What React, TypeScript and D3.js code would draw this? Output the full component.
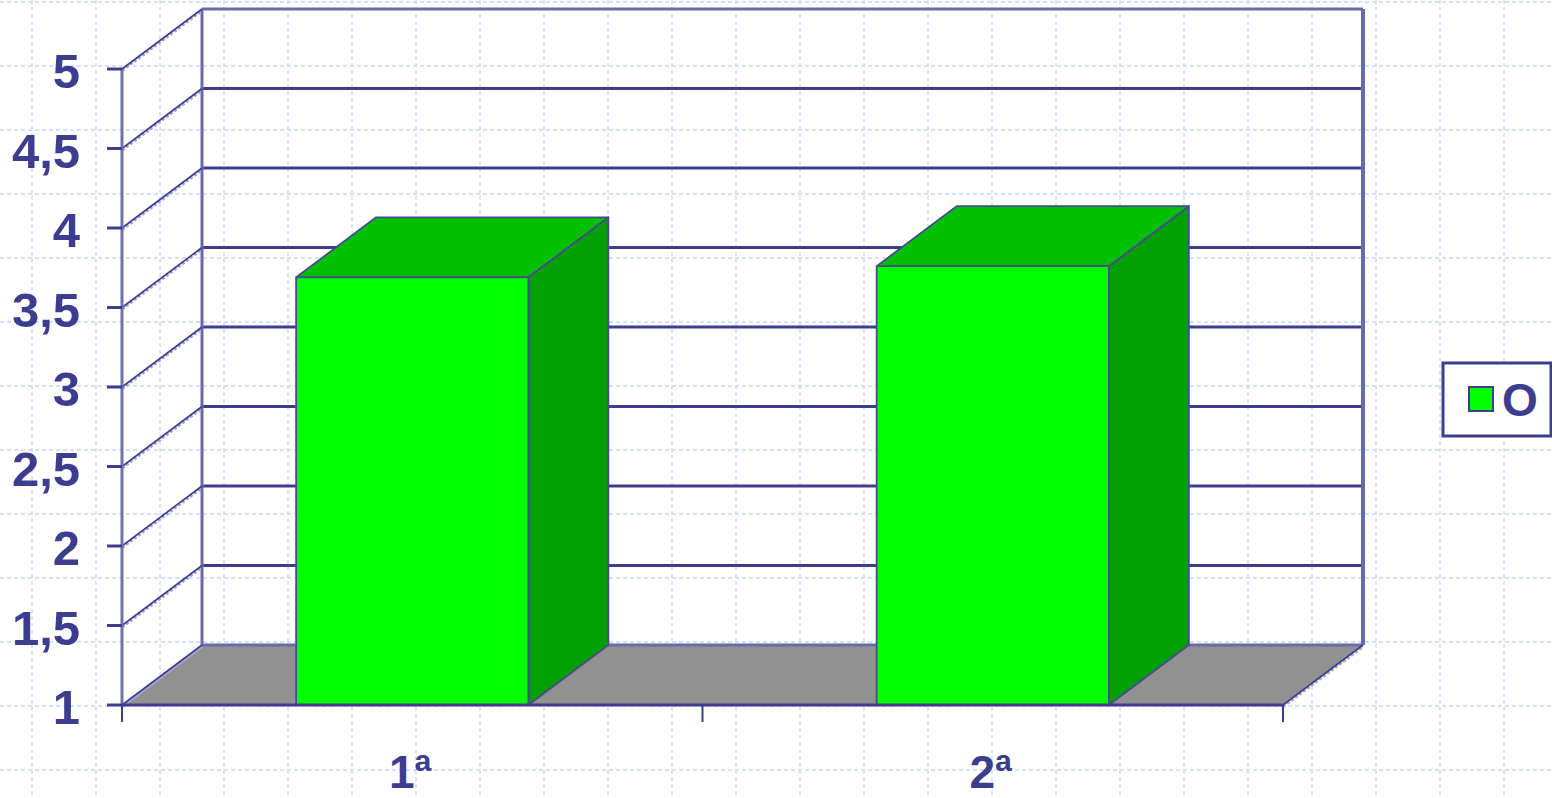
import React from 'react';
import * as d3 from 'd3';

const categories = ['1ª', '2ª'];
const values = [3.69, 3.76];
const seriesName = 'O';
const yTicks = [1, 1.5, 2, 2.5, 3, 3.5, 4, 4.5, 5];

const W = 1552;
const H = 798;
const ink = '#3d3d8f';
const depth = { dx: 80, dy: -60 };

const y = d3.scaleLinear().domain([1, 5]).range([705, 69]);
const x = d3.scaleBand<string>().domain(categories).range([122, 1283]).paddingInner(0);
const barW = x.bandwidth() * 0.4;

const fmt = (v: number) => String(v).replace('.', ',');

function App() {
    const y0 = y(1);
    const x0 = x.range()[0];
    const x1 = x.range()[1];
    const top = y(5);
    const bgX = d3.range(32, W, 64);
    const bgY = d3.range(2, H, 64);

    const floor = [
        [x0, y0], [x1, y0], [x1 + depth.dx, y0 + depth.dy], [x0 + depth.dx, y0 + depth.dy]
    ].map(p => p.join(',')).join(' ');

    return (
        <div style={{ position: 'absolute', left: 0, top: 0 }}>
            <svg width={W} height={H} style={{ display: 'block', background: '#fff' }}
                fontFamily="'Liberation Sans', Arial, sans-serif">
                {/* page background grid */}
                <g stroke="#c9d5f6" strokeWidth={1.3} strokeDasharray="4,3">
                    {bgX.map(v => <line key={'bx' + v} x1={v} x2={v} y1={0} y2={H} />)}
                    {bgY.map(v => <line key={'by' + v} x1={0} x2={W} y1={v} y2={v} />)}
                </g>

                {/* floor */}
                <polygon points={floor} fill="#919191" />

                {/* back wall gridlines */}
                <g>
                    {yTicks.map(t => (
                        <line key={'g' + t} x1={x0 + depth.dx} x2={x1 + depth.dx}
                            y1={y(t) + depth.dy} y2={y(t) + depth.dy}
                            stroke={t === 1 || t === 5 ? '#6a6aa8' : ink} strokeWidth={3} />
                    ))}
                    <line x1={x0 + depth.dx} x2={x0 + depth.dx} y1={top + depth.dy} y2={y0 + depth.dy}
                        stroke="#6a6aa8" strokeWidth={3} />
                    <line x1={x1 + depth.dx} x2={x1 + depth.dx} y1={top + depth.dy} y2={y0 + depth.dy}
                        stroke="#6a6aa8" strokeWidth={4} />
                </g>

                {/* side wall diagonals */}
                <g>
                    {yTicks.map(t => (
                        <g key={'d' + t}>
                            <line x1={x0} y1={y(t) + 1.5} x2={x0 + depth.dx} y2={y(t) + depth.dy + 1.5}
                                stroke="#a4a4cc" strokeWidth={3} strokeDasharray={t === 1 ? undefined : '3,2'} />
                            <line x1={x0} y1={y(t)} x2={x0 + depth.dx} y2={y(t) + depth.dy}
                                stroke={ink} strokeWidth={1.6} />
                        </g>
                    ))}
                    <line x1={x1} y1={y0 + 1.5} x2={x1 + depth.dx} y2={y0 + depth.dy + 1.5}
                        stroke="#a4a4cc" strokeWidth={3} strokeDasharray="3,2" />
                    <line x1={x1} y1={y0} x2={x1 + depth.dx} y2={y0 + depth.dy} stroke={ink} strokeWidth={1.6} />
                </g>

                {/* bars */}
                {categories.map((c, i) => {
                    const bx = (x(c) as number) + (x.bandwidth() - barW) / 2;
                    const by = y(values[i]);
                    const { dx, dy } = depth;
                    const front = `${bx},${by} ${bx + barW},${by} ${bx + barW},${y0} ${bx},${y0}`;
                    const topFace = `${bx},${by} ${bx + dx},${by + dy} ${bx + barW + dx},${by + dy} ${bx + barW},${by}`;
                    const side = `${bx + barW},${by} ${bx + barW + dx},${by + dy} ${bx + barW + dx},${y0 + dy} ${bx + barW},${y0}`;
                    return (
                        <g key={c} stroke="#4a4a90" strokeWidth={1.8} strokeLinejoin="round">
                            <polygon points={side} fill="#00a000" />
                            <polygon points={topFace} fill="#00c000" />
                            <polygon points={front} fill="#00ff00" />
                        </g>
                    );
                })}

                {/* front y axis */}
                <line x1={x0} x2={x0} y1={top} y2={y0} stroke="#7272aa" strokeWidth={3} />
                <g>
                    {yTicks.map(t => (
                        <g key={'t' + t}>
                            <line x1={x0 - 15} x2={x0} y1={y(t)} y2={y(t)} stroke={ink} strokeWidth={3} />
                            <text x={80} y={y(t) + 19} textAnchor="end" fontSize={49} fontWeight="bold" fill={ink}>
                                {fmt(t)}
                            </text>
                        </g>
                    ))}
                </g>

                {/* x axis */}
                <line x1={x0} x2={x1} y1={y0} y2={y0} stroke={ink} strokeWidth={3} />
                {[x0, x0 + x.bandwidth(), x1].map(v => (
                    <line key={'xt' + v} x1={v} x2={v} y1={y0} y2={y0 + 17} stroke={ink} strokeWidth={2} />
                ))}
                {categories.map(c => (
                    <text key={'xl' + c} x={(x(c) as number) + x.bandwidth() / 2 - 2} y={788}
                        textAnchor="middle" fontSize={46} fontWeight="bold" fill={ink}>{c}</text>
                ))}

                {/* legend */}
                <rect x={1443} y={363} width={108} height={73} fill="#fff" stroke={ink} strokeWidth={3} />
                <rect x={1469} y={387} width={24} height={24} fill="#00ff00" stroke={ink} strokeWidth={2} />
                <text x={1502} y={416} fontSize={46} fontWeight="bold" fill={ink}>{seriesName}</text>
            </svg>
        </div>
    );
}

export default App;
